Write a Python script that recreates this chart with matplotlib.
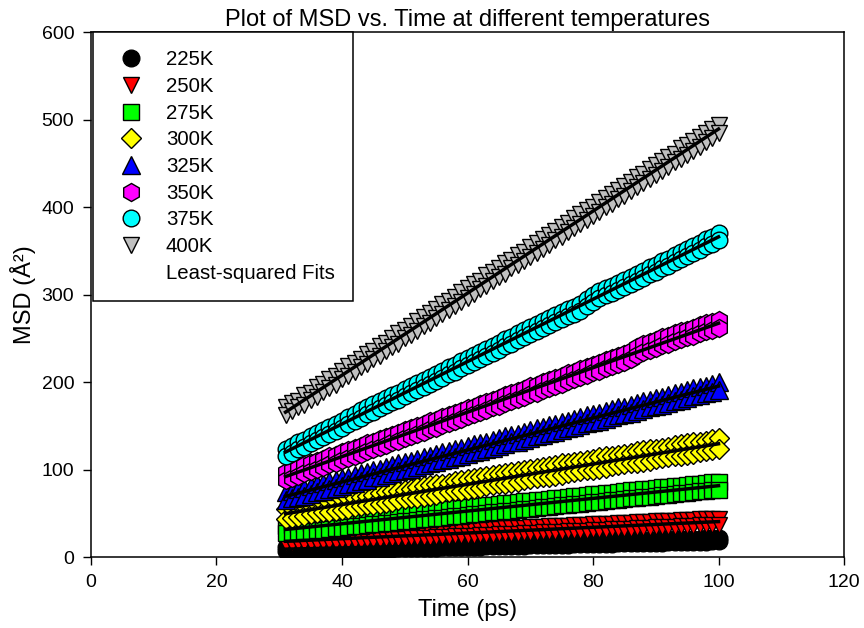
import numpy as np
import matplotlib.pyplot as plt
from matplotlib.lines import Line2D

plt.rcParams['font.family'] = ['Liberation Sans', 'DejaVu Sans']

# time axis (ps), one point per ps
time_ps = np.arange(31, 101)

# each temperature shows two interleaved rows of points (upper / lower)
msd_225_up = [11.0, 11.2, 11.3, 11.5, 11.6, 11.8, 11.9, 12.1, 12.2, 12.4,
              12.5, 12.7, 12.8, 13.0, 13.1, 13.3, 13.4, 13.6, 13.7, 13.9,
              14.0, 14.2, 14.3, 14.5, 14.6, 14.8, 14.9, 15.1, 15.3, 15.4,
              15.6, 15.7, 15.9, 16.0, 16.2, 16.3, 16.5, 16.6, 16.8, 16.9,
              17.1, 17.2, 17.4, 17.5, 17.7, 17.8, 18.0, 18.1, 18.3, 18.4,
              18.6, 18.7, 18.9, 19.0, 19.2, 19.4, 19.5, 19.7, 19.8, 20.0,
              20.1, 20.3, 20.4, 20.6, 20.7, 20.9, 21.0, 21.2, 21.3, 21.5]
msd_225_lo = [7.0, 7.2, 7.3, 7.5, 7.6, 7.8, 8.0, 8.1, 8.3, 8.4,
              8.6, 8.8, 8.9, 9.1, 9.2, 9.4, 9.6, 9.7, 9.9, 10.0,
              10.2, 10.4, 10.5, 10.7, 10.8, 11.0, 11.2, 11.3, 11.5, 11.6,
              11.8, 12.0, 12.1, 12.3, 12.4, 12.6, 12.8, 12.9, 13.1, 13.2,
              13.4, 13.6, 13.7, 13.9, 14.0, 14.2, 14.4, 14.5, 14.7, 14.8,
              15.0, 15.2, 15.3, 15.5, 15.6, 15.8, 16.0, 16.1, 16.3, 16.4,
              16.6, 16.8, 16.9, 17.1, 17.2, 17.4, 17.6, 17.7, 17.9, 18.0]

msd_250_up = [21.0, 21.3, 21.7, 22.0, 22.3, 22.7, 23.0, 23.3, 23.7, 24.0,
              24.3, 24.7, 25.0, 25.3, 25.7, 26.0, 26.3, 26.7, 27.0, 27.3,
              27.7, 28.0, 28.3, 28.7, 29.0, 29.3, 29.7, 30.0, 30.3, 30.7,
              31.0, 31.3, 31.7, 32.0, 32.3, 32.7, 33.0, 33.3, 33.7, 34.0,
              34.3, 34.7, 35.0, 35.3, 35.7, 36.0, 36.3, 36.7, 37.0, 37.3,
              37.7, 38.0, 38.3, 38.7, 39.0, 39.3, 39.7, 40.0, 40.3, 40.7,
              41.0, 41.3, 41.7, 42.0, 42.3, 42.7, 43.0, 43.3, 43.7, 44.0]
msd_250_lo = [15.0, 15.3, 15.6, 16.0, 16.3, 16.6, 16.9, 17.2, 17.6, 17.9,
              18.2, 18.5, 18.8, 19.1, 19.5, 19.8, 20.1, 20.4, 20.7, 21.1,
              21.4, 21.7, 22.0, 22.3, 22.7, 23.0, 23.3, 23.6, 23.9, 24.3,
              24.6, 24.9, 25.2, 25.5, 25.8, 26.2, 26.5, 26.8, 27.1, 27.4,
              27.8, 28.1, 28.4, 28.7, 29.0, 29.4, 29.7, 30.0, 30.3, 30.6,
              30.9, 31.3, 31.6, 31.9, 32.2, 32.5, 32.9, 33.2, 33.5, 33.8,
              34.1, 34.5, 34.8, 35.1, 35.4, 35.7, 36.1, 36.4, 36.7, 37.0]

msd_275_up = [36.0, 36.7, 37.5, 38.2, 38.9, 39.6, 40.4, 41.1, 41.8, 42.5,
              43.3, 44.0, 45.2, 45.4, 46.2, 46.9, 47.6, 48.3, 49.1, 49.8,
              50.5, 51.2, 52.0, 52.7, 53.4, 53.8, 54.9, 55.6, 56.3, 57.0,
              57.8, 58.5, 59.2, 59.9, 60.7, 61.4, 62.1, 62.8, 63.6, 64.3,
              65.4, 65.7, 66.5, 67.2, 67.9, 68.6, 69.4, 70.1, 70.8, 71.5,
              72.3, 73.0, 73.7, 74.4, 75.2, 76.3, 76.6, 77.3, 78.1, 78.8,
              79.5, 80.2, 81.0, 81.7, 82.4, 83.1, 83.9, 84.6, 85.3, 86.0]
msd_275_lo = [27.0, 27.7, 28.5, 29.2, 29.9, 30.6, 31.4, 32.1, 32.8, 33.5,
              34.3, 35.0, 35.7, 36.4, 37.2, 37.9, 38.6, 39.3, 40.1, 40.8,
              41.5, 42.2, 43.0, 43.7, 44.4, 45.1, 45.9, 46.6, 47.3, 48.0,
              48.8, 49.5, 50.2, 50.9, 51.7, 52.4, 53.1, 53.8, 54.6, 55.3,
              56.0, 56.7, 57.5, 58.2, 58.9, 59.6, 60.4, 61.1, 61.8, 62.5,
              63.3, 64.0, 64.7, 65.4, 66.2, 66.9, 67.6, 68.3, 69.1, 69.8,
              70.5, 71.2, 72.0, 72.7, 73.4, 74.1, 74.9, 75.6, 76.3, 77.0]

msd_300_up = [55, 56, 57, 59, 60, 61, 62, 63, 64, 66,
              67, 68, 69, 70, 71, 73, 74, 75, 76, 77,
              78, 80, 81, 82, 83, 84, 85, 87, 88, 89,
              90, 91, 93, 94, 95, 96, 97, 98, 100, 101,
              102, 103, 104, 105, 107, 108, 109, 110, 111, 112,
              114, 115, 116, 117, 118, 119, 121, 122, 123, 124,
              125, 126, 128, 129, 130, 131, 132, 133, 135, 136]
msd_300_lo = [44, 45, 46, 47, 49, 50, 51, 52, 53, 54,
              55, 57, 58, 59, 60, 61, 62, 63, 65, 66,
              67, 68, 69, 70, 71, 73, 74, 75, 76, 77,
              78, 79, 81, 82, 83, 84, 85, 86, 88, 89,
              90, 91, 92, 93, 94, 96, 97, 98, 99, 100,
              101, 102, 104, 105, 106, 107, 108, 109, 110, 112,
              113, 114, 115, 116, 117, 118, 120, 121, 122, 123]

msd_325_up = [74, 76, 78, 79, 81, 83, 85, 87, 88, 90,
              92, 94, 96, 97, 100, 101, 103, 105, 107, 109,
              110, 112, 114, 116, 118, 120, 121, 123, 125, 127,
              129, 130, 132, 134, 136, 138, 140, 141, 143, 145,
              147, 149, 151, 152, 154, 156, 158, 160, 162, 163,
              165, 167, 169, 171, 172, 174, 176, 178, 180, 182,
              183, 185, 187, 189, 191, 193, 194, 196, 198, 200]
msd_325_lo = [65, 67, 69, 70, 72, 74, 76, 78, 79, 81,
              83, 85, 87, 88, 91, 92, 94, 96, 98, 100,
              101, 103, 105, 107, 109, 111, 112, 114, 116, 118,
              120, 121, 123, 125, 127, 129, 131, 132, 134, 136,
              138, 140, 142, 143, 145, 147, 149, 151, 153, 154,
              156, 158, 160, 162, 163, 165, 167, 169, 171, 173,
              174, 176, 178, 180, 182, 184, 185, 187, 189, 191]

msd_350_up = [97, 99, 102, 105, 107, 110, 112, 115, 117, 120,
              122, 125, 127, 130, 132, 135, 137, 140, 142, 145,
              147, 150, 152, 155, 157, 160, 162, 165, 167, 170,
              172, 175, 177, 180, 182, 185, 187, 190, 192, 195,
              197, 200, 202, 205, 207, 210, 212, 215, 217, 220,
              222, 225, 227, 230, 232, 235, 240, 243, 246, 248,
              251, 253, 256, 258, 260, 262, 265, 267, 269, 271]
msd_350_lo = [88, 90, 93, 96, 98, 101, 103, 106, 108, 111,
              113, 116, 118, 121, 123, 126, 128, 131, 133, 136,
              138, 141, 143, 146, 148, 151, 153, 156, 158, 161,
              163, 166, 168, 171, 173, 176, 178, 181, 183, 186,
              188, 191, 193, 196, 198, 201, 203, 206, 208, 211,
              213, 216, 218, 221, 223, 226, 231, 234, 237, 239,
              242, 244, 247, 249, 251, 253, 256, 258, 260, 262]

msd_375_up = [124, 127, 131, 134, 138, 142, 145, 149, 152, 156,
              160, 164, 168, 171, 175, 178, 182, 185, 188, 192,
              195, 199, 202, 206, 209, 213, 217, 220, 224, 227,
              231, 234, 238, 241, 245, 249, 252, 256, 259, 263,
              266, 270, 273, 277, 280, 284, 286, 289, 295, 300,
              304, 307, 310, 313, 317, 320, 324, 327, 331, 334,
              338, 341, 345, 349, 352, 356, 359, 363, 366, 370]
msd_375_lo = [116, 119, 123, 126, 130, 134, 137, 141, 144, 148,
              152, 156, 159, 163, 166, 170, 174, 177, 180, 184,
              187, 191, 194, 198, 201, 205, 209, 212, 216, 219,
              223, 226, 230, 233, 237, 241, 244, 248, 251, 255,
              258, 262, 265, 269, 272, 276, 278, 281, 287, 292,
              296, 299, 302, 305, 309, 312, 316, 319, 323, 326,
              330, 333, 337, 341, 344, 348, 351, 355, 358, 362]

msd_400_up = [171, 176, 178, 185, 188, 194, 198, 204, 207, 213,
              218, 222, 226, 232, 235, 241, 245, 250, 256, 260,
              264, 270, 274, 279, 283, 289, 293, 297, 303, 307,
              312, 316, 322, 326, 330, 336, 340, 345, 349, 354,
              359, 363, 368, 373, 377, 382, 388, 392, 397, 400,
              406, 410, 415, 420, 424, 429, 434, 438, 444, 448,
              453, 457, 461, 467, 471, 476, 480, 485, 489, 494]
msd_400_lo = [162, 167, 171, 174, 180, 183, 189, 193, 197, 203,
              207, 212, 217, 221, 226, 230, 236, 240, 244, 250,
              254, 258, 264, 268, 273, 278, 282, 287, 292, 296,
              301, 306, 310, 315, 320, 324, 330, 334, 338, 343,
              348, 352, 357, 362, 366, 371, 376, 381, 385, 390,
              394, 400, 404, 409, 413, 418, 423, 427, 432, 437,
              441, 446, 451, 455, 460, 464, 469, 474, 479, 485]

labels = ['225K', '250K', '275K', '300K', '325K', '350K', '375K', '400K']
uppers = [msd_225_up, msd_250_up, msd_275_up, msd_300_up,
          msd_325_up, msd_350_up, msd_375_up, msd_400_up]
lowers = [msd_225_lo, msd_250_lo, msd_275_lo, msd_300_lo,
          msd_325_lo, msd_350_lo, msd_375_lo, msd_400_lo]

colors = ['#000000', '#ff0000', '#00ff00', '#ffff00',
          '#0000ff', '#ff00ff', '#00ffff', '#c0c0c0']
markers = ['o', 'v', 's', 'D', '^', 'h', 'o', 'v']
msizes = [12, 12, 11.5, 10, 13, 13, 12, 12]

fig = plt.figure(figsize=(8.64, 6.28), dpi=100)
ax = fig.add_axes([0.1053, 0.113, 0.8716, 0.836])

handles = []
for lab, up, lo, c, m, ms in zip(labels, uppers, lowers, colors, markers, msizes):
    t = time_ps[:len(up)]
    # interleave the two rows so they overlap like the original
    xs = np.column_stack([t, t]).ravel()
    ys = np.column_stack([up, lo]).ravel()
    ax.plot(xs, ys, linestyle='none', marker=m, markersize=ms,
            markerfacecolor=c, markeredgecolor='black', markeredgewidth=1, zorder=2)
    handles.append(Line2D([], [], linestyle='none', marker=m, markersize=ms,
                          markerfacecolor=c, markeredgecolor='black', markeredgewidth=1,
                          label=lab))

# least squares fits
for up, lo in zip(uppers, lowers):
    t = time_ps[:len(up)]
    slope, icpt = np.polyfit(np.concatenate([t, t]), np.concatenate([up, lo]), 1)
    ax.plot(t, slope * t + icpt, color='black', linewidth=2.5, zorder=3)

handles.append(Line2D([], [], linestyle='none', label='Least-squared Fits'))

ax.set_xlim(0, 120)
ax.set_ylim(0, 600)
ax.set_xticks(np.arange(0, 121, 20))
ax.set_yticks(np.arange(0, 601, 100))
ax.tick_params(direction='out', length=6, width=1, labelsize=14, pad=6,
               top=False, right=False)
for sp in ax.spines.values():
    sp.set_linewidth(1.1)

ax.set_xlabel('Time (ps)', fontsize=17, labelpad=6)
ax.set_ylabel('MSD (Å²)', fontsize=17, labelpad=4)
ax.set_title('Plot of MSD vs. Time at different temperatures', fontsize=17, pad=4)

leg = ax.legend(handles=handles, loc='upper left', bbox_to_anchor=(0.0027, 1.0),
                borderaxespad=0, fontsize=14.7, frameon=True, fancybox=False,
                framealpha=1, edgecolor='black', borderpad=0.9, labelspacing=0.375,
                handlelength=1.9, handletextpad=0.77)
leg.get_frame().set_linewidth(1.1)

fig.savefig('out.png', dpi=100)
